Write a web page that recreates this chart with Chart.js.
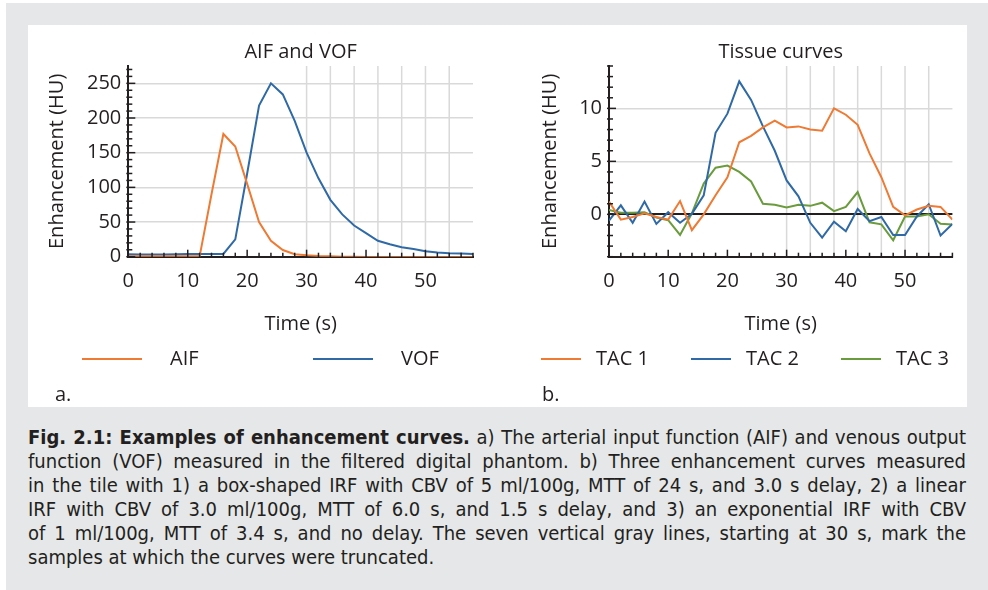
<!DOCTYPE html>
<html>
<head>
<meta charset="utf-8">
<script src="https://cdn.jsdelivr.net/npm/chart.js@4.4.1/dist/chart.umd.min.js"></script>
<style>
  html, body { margin: 0; padding: 0; background: #fff; }
  #frame { position: absolute; left: 6px; top: 3px; width: 982px; height: 587px; background: #e6e7e8; }
  #panel { position: absolute; left: 28px; top: 25px; width: 939px; height: 382px; background: #fff; }
  canvas { position: absolute; top: 0; }
  #aif-chart { left: 0; }
  #tissue-chart { left: 470px; }
  .tag { position: absolute; top: 357px; font: 20px "Open Sans"; line-height: 24px; color: #231f20; }
  #caption { position: absolute; left: 28px; top: 425px; width: 938px; color: #231f20;
    font-family: "Liberation Sans Narrow", "DejaVu Sans Condensed", sans-serif; font-size: 20px; line-height: 24px; }
  #caption div { white-space: nowrap; text-align: justify; text-align-last: justify; }
  #caption div.last { text-align-last: left; }
</style>
</head>
<body>
<div id="frame"></div>
<div id="panel">
  <canvas id="aif-chart" width="470" height="382"></canvas>
  <canvas id="tissue-chart" width="469" height="382"></canvas>
  <div class="tag" style="left:27px">a.</div>
  <div class="tag" style="left:514px">b.</div>
</div>
<div id="caption">
  <div><b>Fig. 2.1: Examples of enhancement curves.</b> a) The arterial input function (AIF) and venous output</div>
  <div>function (VOF) measured in the filtered digital phantom. b) Three enhancement curves measured</div>
  <div>in the tile with 1) a box-shaped IRF with CBV of 5 ml/100g, MTT of 24 s, and 3.0 s delay, 2) a linear</div>
  <div>IRF with CBV of 3.0 ml/100g, MTT of 6.0 s, and 1.5 s delay, and 3) an exponential IRF with CBV</div>
  <div>of 1 ml/100g, MTT of 3.4 s, and no delay. The seven vertical gray lines, starting at 30 s, mark the</div>
  <div class="last">samples at which the curves were truncated.</div>
</div>
<script>
// Sample times (s), every 2 s
const times = [0, 2, 4, 6, 8, 10, 12, 14, 16, 18, 20, 22, 24, 26, 28,
               30, 32, 34, 36, 38, 40, 42, 44, 46, 48, 50, 52, 54, 56, 58];

// a) AIF and VOF (HU)
const aif = [0.5, 0.5, 0.5, 0.5, 0.5, 0.5, 0.5, 90, 177, 159, 105, 50, 23, 9.6, 3.5,
             2, 1, 0.5, 0, 0, -0.5, -0.5, -0.5, -0.5, -0.5, -0.5, -0.5, -0.5, -0.5, -0.5];
const vof = [3.5, 3, 3, 3, 3.5, 4, 4, 4, 4, 25, 120, 218, 250, 234, 196,
             150, 113, 82, 61, 45, 34, 23, 18, 13.5, 11, 8, 6, 5, 4.5, 4];

// b) Tissue curves (HU)
const tac1 = [1.2, -0.5, -0.25, 0.1, -0.25, -0.5, 1.25, -1.5, 0, 1.8, 3.5, 6.8, 7.4, 8.2, 8.85,
              8.2, 8.3, 8.0, 7.9, 10.0, 9.4, 8.45, 5.75, 3.5, 0.7, -0.1, 0.45, 0.8, 0.7, -0.5];
const tac2 = [-0.6, 0.85, -0.8, 1.2, -0.9, 0.2, -0.8, 0.05, 1.8, 7.7, 9.5, 12.55, 10.8, 8.3, 6.0,
              3.2, 1.7, -0.8, -2.2, -0.7, -1.6, 0.5, -0.65, -0.25, -1.95, -1.95, -0.2, 0.95, -2.0, -0.9];
const tac3 = [0.4, 0.15, 0.15, 0.2, -0.3, -0.55, -1.95, 0.1, 2.9, 4.4, 4.6, 4.0, 3.1, 1.0, 0.9,
              0.65, 0.9, 0.8, 1.1, 0.3, 0.7, 2.1, -0.75, -0.95, -2.45, -0.2, -0.2, 0, -0.9, -0.95];

// Tick labels and truncation samples
const xTicks = [0, 10, 20, 30, 40, 50];
const aifYTicks = [0, 50, 100, 150, 200, 250];
const tissueYTicks = [0, 5, 10];
const truncationTimes = [30, 34, 38, 42, 46, 50, 54];

const ORANGE = '#ee7a33';
const BLUE = '#2f6aa6';
const GREEN = '#6a9b3c';
const INK = '#231f20';
const GRID = '#d9d9d9';

Chart.defaults.font.family = '"Open Sans", sans-serif';
Chart.defaults.font.size = 20;
Chart.defaults.color = INK;

// Gray truncation lines, inward tick marks and a line legend
const axisDecor = {
    id: 'axisDecor',
    beforeDraw(chart, args, opts) {
        const { ctx, chartArea } = chart;
        const x = chart.scales.x;
        ctx.save();
        ctx.strokeStyle = GRID;
        ctx.lineWidth = 1.5;
        truncationTimes.forEach(t => {
            const px = x.getPixelForValue(t);
            ctx.beginPath();
            ctx.moveTo(px, chartArea.top);
            ctx.lineTo(px, chartArea.bottom);
            ctx.stroke();
        });
        ctx.restore();
    },
    afterDraw(chart, args, opts) {
        const { ctx, chartArea } = chart;
        const x = chart.scales.x;
        const y = chart.scales.y;
        ctx.save();
        ctx.strokeStyle = INK;
        ctx.lineWidth = 1.5;
        // x ticks every 2 s, pointing up
        for (let t = x.min; t <= x.max + 1e-6; t += opts.xMinor) {
            const px = x.getPixelForValue(t);
            const len = t % 10 === 0 ? 7 : 4;
            ctx.beginPath();
            ctx.moveTo(px, chartArea.bottom + 1);
            ctx.lineTo(px, chartArea.bottom - len);
            ctx.stroke();
        }
        // y ticks, pointing right
        for (let v = y.min; v <= y.max + 1e-6; v += opts.yMinor) {
            const py = y.getPixelForValue(v);
            const len = Math.abs(v % opts.yMajor) < 1e-6 ? 7 : 4;
            ctx.beginPath();
            ctx.moveTo(chartArea.left - 2, py);
            ctx.lineTo(chartArea.left + len, py);
            ctx.stroke();
        }
        // legend
        ctx.lineWidth = 2;
        ctx.font = '20px "Open Sans"';
        ctx.textBaseline = 'middle';
        ctx.textAlign = 'left';
        ctx.fillStyle = INK;
        chart.data.datasets.forEach((ds, i) => {
            const lx = opts.legendX[i];
            ctx.strokeStyle = ds.borderColor;
            ctx.beginPath();
            ctx.moveTo(lx, opts.legendY);
            ctx.lineTo(lx + opts.legendLine, opts.legendY);
            ctx.stroke();
            ctx.fillText(ds.label, lx + opts.legendLine + opts.legendGap, opts.legendY);
        });
        ctx.restore();
    }
};

function makeChart(id, title, datasets, yRange, yTicks, decor, pad, yWidth) {
    return new Chart(document.getElementById(id), {
        type: 'line',
        data: { labels: times, datasets: datasets },
        options: {
            responsive: false,
            animation: false,
            devicePixelRatio: 1,
            layout: { padding: pad },
            elements: { point: { radius: 0 }, line: { borderWidth: 2, tension: 0 } },
            plugins: {
                legend: { display: false },
                tooltip: { enabled: false },
                title: { display: true, text: title, fullSize: false,
                         font: { size: 20, weight: 'normal' }, padding: { top: 15.5, bottom: 1.5 } },
                axisDecor: decor
            },
            scales: {
                x: {
                    type: 'linear', min: 0, max: 58,
                    afterBuildTicks: s => { s.ticks = xTicks.map(v => ({ value: v })); },
                    afterFit: s => { s.height = 84; },
                    ticks: { padding: 13, maxRotation: 0 },
                    grid: { display: false, drawTicks: false },
                    border: { color: INK, width: 2 },
                    title: { display: true, text: 'Time (s)', padding: { top: 4, bottom: 4 } }
                },
                y: {
                    min: yRange[0], max: yRange[1],
                    afterBuildTicks: s => { s.ticks = yTicks.map(v => ({ value: v })); },
                    afterFit: s => { s.width = yWidth; },
                    ticks: { padding: 7 },
                    grid: {
                        drawTicks: false,
                        color: c => (c.tick && c.tick.value === 0) ? INK : GRID,
                        lineWidth: c => (c.tick && c.tick.value === 0) ? 2 : 1.5
                    },
                    border: { color: INK, width: 2 },
                    title: { display: true, text: 'Enhancement (HU)', padding: { top: 3, bottom: 4 } }
                }
            }
        },
        plugins: [axisDecor]
    });
}

const aifChart = makeChart('aif-chart', 'AIF and VOF', [
    { label: 'AIF', data: aif, borderColor: ORANGE, backgroundColor: ORANGE },
    { label: 'VOF', data: vof, borderColor: BLUE, backgroundColor: BLUE }
], [0, 275], aifYTicks,
{ xMinor: 2, yMinor: 10, yMajor: 50, legendX: [54, 285], legendY: 334, legendLine: 60, legendGap: 28 },
{ left: 14.7, right: 25, top: 0, bottom: 66.3 }, 85.6);

const tissueChart = makeChart('tissue-chart', 'Tissue curves', [
    { label: 'TAC 1', data: tac1, borderColor: ORANGE, backgroundColor: ORANGE },
    { label: 'TAC 2', data: tac2, borderColor: BLUE, backgroundColor: BLUE },
    { label: 'TAC 3', data: tac3, borderColor: GREEN, backgroundColor: GREEN }
], [-4, 14], tissueYTicks,
{ xMinor: 2, yMinor: 1, yMajor: 5, legendX: [43, 193, 343], legendY: 334, legendLine: 40, legendGap: 15 },
{ left: 37.7, right: 14.6, top: 0, bottom: 66.3 }, 73.3);
</script>
</body>
</html>
